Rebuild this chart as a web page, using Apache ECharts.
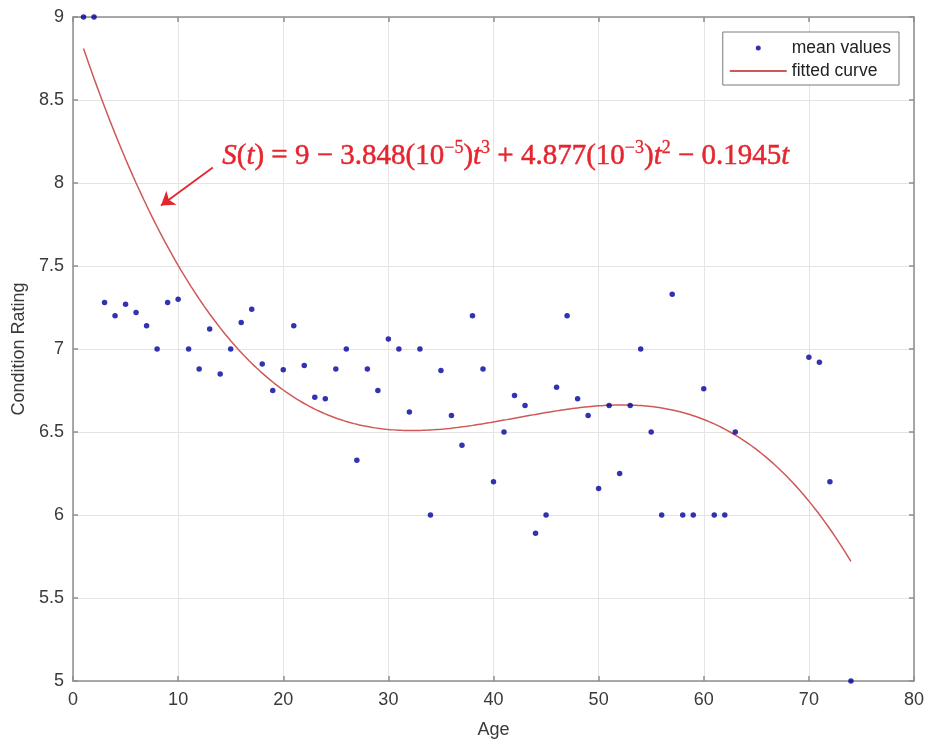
<!DOCTYPE html>
<html>
<head>
<meta charset="utf-8">
<script src="https://cdn.jsdelivr.net/npm/echarts@6/dist/echarts.min.js"></script>
<style>
  html, body { margin: 0; padding: 0; background: #fff; }
  #chart { width: 928px; height: 745px; }
</style>
</head>
<body>
<div id="chart"></div>
<script>
// Mean condition rating observed at each age
const ages = [1, 2, 3, 4, 5, 6, 7, 8, 9, 10, 11, 12, 13, 14, 15, 16, 17, 18, 19, 20,
  21, 22, 23, 24, 25, 26, 27, 28, 29, 30, 31, 32, 33, 34, 35, 36, 37, 38, 39, 40,
  41, 42, 43, 44, 45, 46, 47, 48, 49, 50, 51, 52, 53, 54, 55, 56, 57, 58, 59, 60,
  61, 62, 63, 70, 71, 72, 74];
const meanRatings = [9, 9, 7.28, 7.20, 7.27, 7.22, 7.14, 7.00, 7.28, 7.30,
  7.00, 6.88, 7.12, 6.85, 7.00, 7.16, 7.24, 6.91, 6.75, 6.875,
  7.14, 6.90, 6.71, 6.70, 6.88, 7.00, 6.33, 6.88, 6.75, 7.06,
  7.00, 6.62, 7.00, 6.00, 6.87, 6.60, 6.42, 7.20, 6.88, 6.20,
  6.50, 6.72, 6.66, 5.89, 6.00, 6.77, 7.20, 6.70, 6.60, 6.16,
  6.66, 6.25, 6.66, 7.00, 6.50, 6.00, 7.33, 6.00, 6.00, 6.76,
  6.00, 6.00, 6.50, 6.95, 6.92, 6.20, 5.00];

// Cubic fit S(t) = c0 + c1*t + c2*t^2 + c3*t^3
const fitCoefficients = [9, -0.1945, 4.877e-3, -3.848e-5];
const fitRange = [1, 74];

const xTicks = { min: 0, max: 80, interval: 10 };
const yTicks = { min: 5, max: 9, interval: 0.5 };

function fitValue(t) {
  return fitCoefficients.reduce((s, c, k) => s + c * Math.pow(t, k), 0);
}
const fitted = [];
for (let t = fitRange[0]; t <= fitRange[1] + 1e-9; t += 0.25) {
  fitted.push([t, fitValue(t)]);
}
const points = ages.map((a, i) => [a, meanRatings[i]]);

const axisGray = '#8e8e8e';
const gridGray = '#e4e4e4';
const labelColor = '#3a3a3a';
const sans = '"Liberation Sans", Arial, Helvetica, sans-serif';
const serif = '"Liberation Serif", "DejaVu Serif", serif';
const red = '#e5262f';
const curveRed = '#cf5858';

const boxAxis = {
  axisLine: { show: true, onZero: false, lineStyle: { color: axisGray, width: 1.5 } },
  axisTick: { show: true, inside: true, length: 5, lineStyle: { color: axisGray, width: 1.5 } },
  splitLine: { show: false },
  axisLabel: { show: false }
};

// Equation text styles: italic variables, upright numerals, raised exponents
const eqBase = { fontFamily: serif, fontSize: 29, fill: red, stroke: red, lineWidth: 0.5, verticalAlign: 'bottom', lineHeight: 32 };

const chart = echarts.init(document.getElementById('chart'), null, { renderer: 'canvas' });
chart.setOption({
  backgroundColor: '#ffffff',
  animation: false,
  grid: { left: 73, right: 14, top: 17, bottom: 64, containLabel: false },
  xAxis: [
    {
      type: 'value', position: 'bottom',
      min: xTicks.min, max: xTicks.max, interval: xTicks.interval,
      name: 'Age', nameLocation: 'middle', nameGap: 40,
      nameTextStyle: { color: labelColor, fontSize: 18, fontFamily: sans },
      axisLine: { show: true, onZero: false, lineStyle: { color: axisGray, width: 1.5 } },
      axisTick: { show: true, inside: true, length: 5, lineStyle: { color: axisGray, width: 1.5 } },
      axisLabel: { color: labelColor, fontSize: 18, fontFamily: sans, margin: 10 },
      splitLine: { show: true, lineStyle: { color: gridGray, width: 1 } }
    },
    Object.assign({ type: 'value', position: 'top', min: xTicks.min, max: xTicks.max, interval: xTicks.interval }, boxAxis)
  ],
  yAxis: [
    {
      type: 'value', position: 'left',
      min: yTicks.min, max: yTicks.max, interval: yTicks.interval,
      name: 'Condition Rating', nameLocation: 'middle', nameGap: 43,
      nameTextStyle: { color: labelColor, fontSize: 18, fontFamily: sans },
      axisLine: { show: true, onZero: false, lineStyle: { color: axisGray, width: 1.5 } },
      axisTick: { show: true, inside: true, length: 5, lineStyle: { color: axisGray, width: 1.5 } },
      axisLabel: { color: labelColor, fontSize: 18, fontFamily: sans, margin: 9 },
      splitLine: { show: true, lineStyle: { color: gridGray, width: 1 } }
    },
    Object.assign({ type: 'value', position: 'right', min: yTicks.min, max: yTicks.max, interval: yTicks.interval }, boxAxis)
  ],
  legend: {
    orient: 'vertical',
    right: 29, top: 32,
    padding: [7, 8, 5, 6],
    itemWidth: 57, itemHeight: 5, itemGap: 5,
    backgroundColor: '#ffffff',
    borderColor: '#7a7a7a', borderWidth: 1,
    textStyle: { color: '#222', fontSize: 17.5, fontFamily: sans },
    selectedMode: false,
    data: [
      { name: 'mean values' },
      { name: 'fitted curve', itemStyle: { opacity: 0 } }
    ]
  },
  series: [
    {
      name: 'fitted curve',
      type: 'line',
      data: fitted,
      showSymbol: false,
      symbol: 'none',
      clip: false,
      z: 3,
      lineStyle: { color: curveRed, width: 1.5 },
      itemStyle: { color: curveRed },
      markLine: {
        silent: true,
        symbol: ['none', 'arrow'],
        symbolSize: 13,
        label: { show: false },
        emphasis: { disabled: true },
        lineStyle: { color: red, width: 1.8, type: 'solid' },
        itemStyle: { color: red },
        data: [[{ coord: [13.3, 8.093] }, { coord: [8.37, 7.865] }]]
      }
    },
    {
      name: 'mean values',
      type: 'scatter',
      data: points,
      symbol: 'circle',
      symbolSize: 5.5,
      clip: false,
      z: 5,
      itemStyle: { color: '#00009e' }
    }
  ],
  graphic: [
    {
      type: 'text',
      left: 222, top: 139,
      z: 10,
      style: {
        text: '{i|S}{n|(}{i|t}{n|) = 9 \u2212 3.848(10}{s|\u22125}{n|)}{i|t}{s|3}{n| + 4.877(10}{s|\u22123}{n|)}{i|t}{s|2}{n| \u2212 0.1945}{i|t}',
        fill: red,
        rich: {
          i: Object.assign({}, eqBase, { fontStyle: 'italic' }),
          n: Object.assign({}, eqBase),
          s: Object.assign({}, eqBase, { fontSize: 18, lineWidth: 0.3, verticalAlign: 'top' })
        }
      }
    }
  ]
});
</script>
</body>
</html>
